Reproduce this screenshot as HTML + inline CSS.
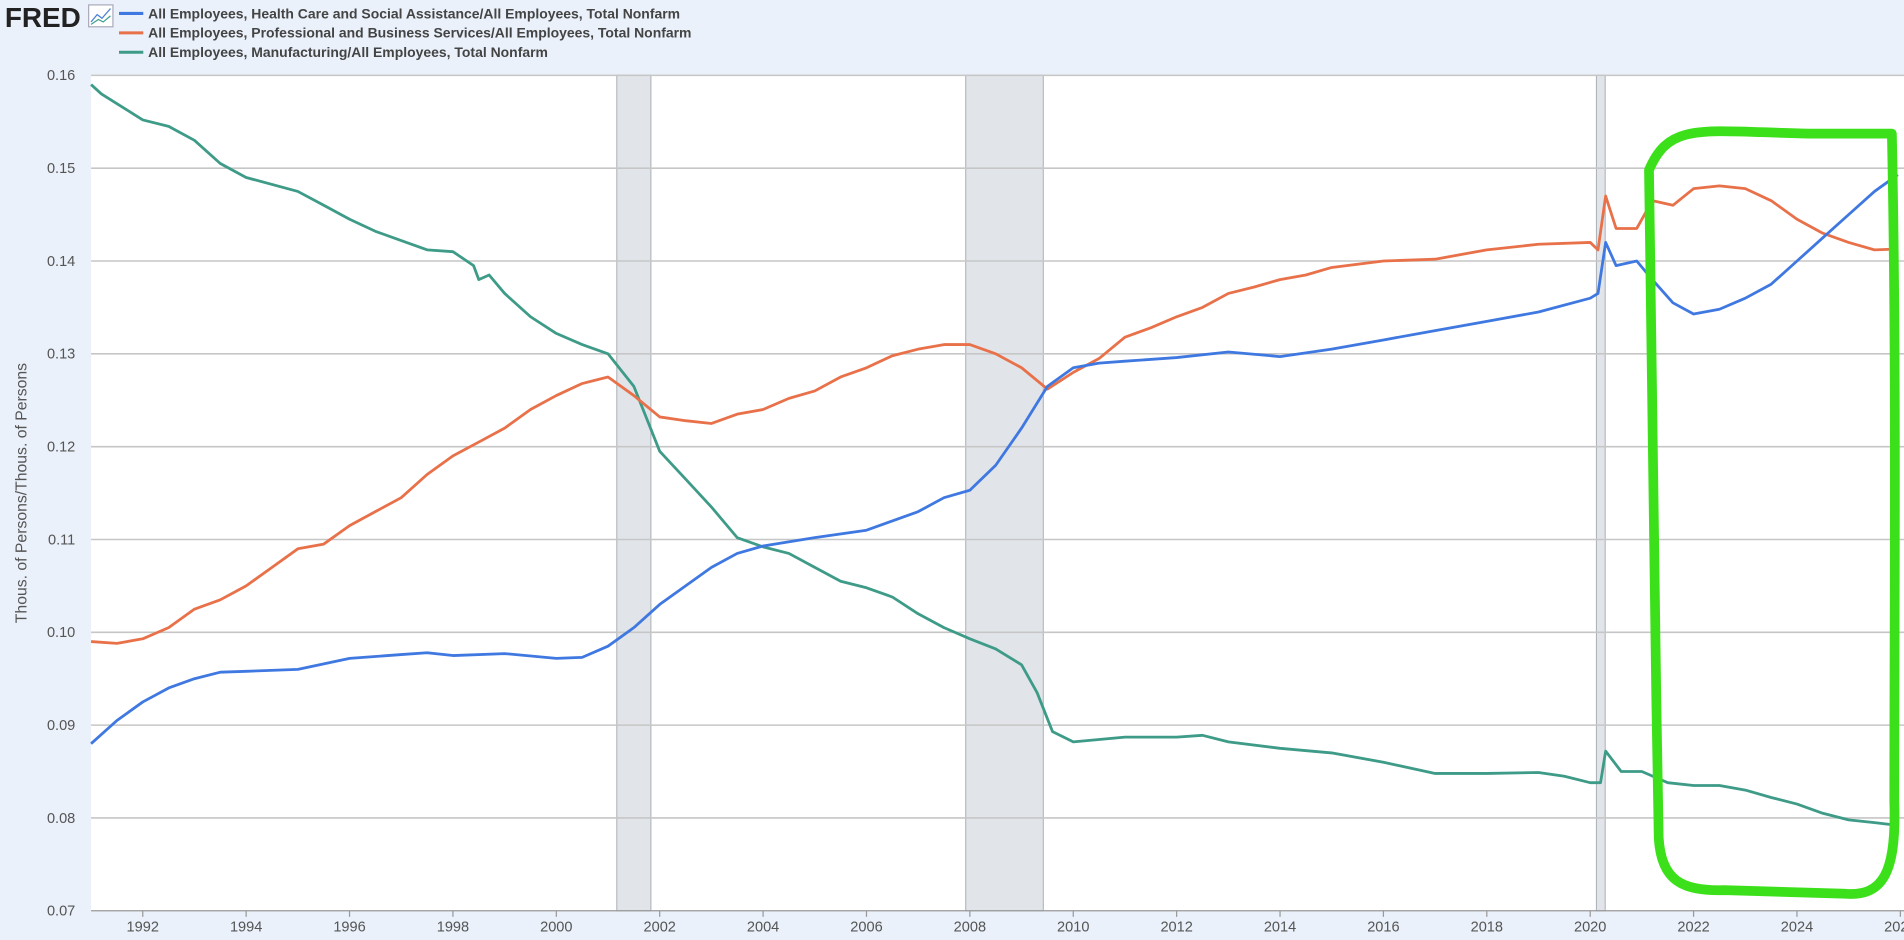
<!DOCTYPE html>
<html><head><meta charset="utf-8">
<style>
html,body{margin:0;padding:0;background:#eaf1fa;overflow:hidden}
svg{display:block}
text{font-family:"Liberation Sans",sans-serif}
</style></head>
<body>
<svg id="chart" width="1904" height="940" viewBox="0 0 1568 774" xmlns="http://www.w3.org/2000/svg">
<rect x="0" y="0" width="1568" height="774" fill="#eaf1fa"/>
<text x="4" y="22" font-size="23" font-weight="bold" fill="#222">FRED</text>
<g><rect x="73" y="4" width="20" height="18" fill="#fff" stroke="#aab"/><polyline points="75,18 80,12 84,15 91,7" fill="none" stroke="#4a7fd6"/><polyline points="75,20 81,16 85,18 91,13" fill="none" stroke="#3fa08c"/></g>
<g>
<line x1="98" y1="11" x2="118" y2="11" stroke="#3f78e0" stroke-width="2.5"/>
<text x="122" y="15" font-size="11.5" font-weight="bold" fill="#444">All Employees, Health Care and Social Assistance/All Employees, Total Nonfarm</text>
<line x1="98" y1="27" x2="118" y2="27" stroke="#e8714a" stroke-width="2.5"/>
<text x="122" y="31" font-size="11.5" font-weight="bold" fill="#444">All Employees, Professional and Business Services/All Employees, Total Nonfarm</text>
<line x1="98" y1="43" x2="118" y2="43" stroke="#3d9b87" stroke-width="2.5"/>
<text x="122" y="47" font-size="11.5" font-weight="bold" fill="#444">All Employees, Manufacturing/All Employees, Total Nonfarm</text>
</g>
<rect x="75" y="62" width="1493" height="688" fill="#fff"/>
<g id="rec"></g><g id="grid"></g><g id="lines"></g><g id="axes"></g>
<text transform="translate(22,406) rotate(-90)" text-anchor="middle" font-size="13" fill="#555">Thous. of Persons/Thous. of Persons</text>
<path d="M1358,140 C1375,100 1400,108 1490,110 L1558,110 C1562,300 1560,500 1560,660 C1562,720 1550,738 1520,736 L1420,733 C1385,734 1368,725 1366,690 C1362,500 1362,300 1358,140 Z" fill="none" stroke="#3ce01a" stroke-width="8" stroke-linejoin="round"/>
</svg>
<script>
const yTicks=[0.07,0.08,0.09,0.10,0.11,0.12,0.13,0.14,0.15,0.16];
const xTickYears=[1992,1994,1996,1998,2000,2002,2004,2006,2008,2010,2012,2014,2016,2018,2020,2022,2024,2026];
const recessionStarts=[2001.17,2007.92,2020.12];
const recessionEnds=[2001.83,2009.42,2020.29];
const healthDates=[1991,1991.5,1992,1992.5,1993,1993.5,1994,1995,1996,1997,1997.5,1998,1999,2000,2000.5,2001,2001.5,2002,2002.5,2003,2003.5,2004,2005,2006,2007,2007.5,2008,2008.5,2009,2009.5,2010,2010.5,2011,2012,2013,2014,2015,2016,2017,2018,2019,2020,2020.15,2020.3,2020.5,2020.9,2021.2,2021.6,2022,2022.5,2023,2023.5,2024,2024.5,2025,2025.5,2025.95];
const healthValues=[0.088,0.0905,0.0925,0.094,0.095,0.0957,0.0958,0.096,0.0972,0.0976,0.0978,0.0975,0.0977,0.0972,0.0973,0.0985,0.1005,0.103,0.105,0.107,0.1085,0.1093,0.1102,0.111,0.113,0.1145,0.1153,0.118,0.122,0.1265,0.1285,0.129,0.1292,0.1296,0.1302,0.1297,0.1305,0.1315,0.1325,0.1335,0.1345,0.136,0.1365,0.142,0.1395,0.140,0.138,0.1355,0.1343,0.1348,0.136,0.1375,0.140,0.1425,0.145,0.1475,0.1493];
const profDates=[1991,1991.5,1992,1992.5,1993,1993.5,1994,1994.5,1995,1995.5,1996,1996.5,1997,1997.5,1998,1998.5,1999,1999.5,2000,2000.5,2001,2001.5,2002,2002.5,2003,2003.5,2004,2004.5,2005,2005.5,2006,2006.5,2007,2007.5,2008,2008.5,2009,2009.5,2010,2010.5,2011,2011.5,2012,2012.5,2013,2013.5,2014,2014.5,2015,2016,2017,2018,2019,2020,2020.15,2020.3,2020.5,2020.9,2021.2,2021.6,2022,2022.5,2023,2023.5,2024,2024.5,2025,2025.5,2025.95];
const profValues=[0.099,0.0988,0.0993,0.1005,0.1025,0.1035,0.105,0.107,0.109,0.1095,0.1115,0.113,0.1145,0.117,0.119,0.1205,0.122,0.124,0.1255,0.1268,0.1275,0.1255,0.1232,0.1228,0.1225,0.1235,0.124,0.1252,0.126,0.1275,0.1285,0.1298,0.1305,0.131,0.131,0.130,0.1285,0.1262,0.128,0.1295,0.1318,0.1328,0.134,0.135,0.1365,0.1372,0.138,0.1385,0.1393,0.140,0.1402,0.1412,0.1418,0.142,0.1412,0.147,0.1435,0.1435,0.1465,0.146,0.1478,0.1481,0.1478,0.1465,0.1445,0.143,0.142,0.1412,0.1413];
const mfgDates=[1991,1991.2,1992,1992.5,1993,1993.5,1994,1995,1995.5,1996,1996.5,1997,1997.5,1998,1998.4,1998.5,1998.7,1999,1999.5,2000,2000.5,2001,2001.5,2002,2002.5,2003,2003.5,2004,2004.5,2005,2005.5,2006,2006.5,2007,2007.5,2008,2008.5,2009,2009.3,2009.6,2010,2011,2012,2012.5,2013,2014,2015,2016,2017,2018,2019,2019.5,2020,2020.2,2020.3,2020.6,2021,2021.5,2022,2022.5,2023,2023.5,2024,2024.5,2025,2025.5,2025.95];
const mfgValues=[0.159,0.158,0.1552,0.1545,0.153,0.1505,0.149,0.1475,0.146,0.1445,0.1432,0.1422,0.1412,0.141,0.1395,0.138,0.1385,0.1365,0.134,0.1322,0.131,0.130,0.1265,0.1195,0.1165,0.1135,0.1102,0.1092,0.1085,0.107,0.1055,0.1048,0.1038,0.102,0.1005,0.0993,0.0982,0.0965,0.0935,0.0893,0.0882,0.0887,0.0887,0.0889,0.0882,0.0875,0.087,0.086,0.0848,0.0848,0.0849,0.0845,0.0838,0.0838,0.0872,0.085,0.085,0.0838,0.0835,0.0835,0.083,0.0822,0.0815,0.0805,0.0798,0.0795,0.0792];

const NS='http://www.w3.org/2000/svg';
const X0=75,X1=1565,Y0=62,Y1=750,T0=1991,T1=2026,V0=0.07,V1=0.16;
function xs(t){return X0+(t-T0)/(T1-T0)*(X1-X0);}
function ys(v){return Y1-(v-V0)/(V1-V0)*(Y1-Y0);}
function mk(tag,attrs,parent){const e=document.createElementNS(NS,tag);for(const k in attrs)e.setAttribute(k,attrs[k]);parent.appendChild(e);return e;}
const rec=document.getElementById('rec'),grid=document.getElementById('grid'),lines=document.getElementById('lines'),axes=document.getElementById('axes');
recessionStarts.forEach((s,i)=>{
  const r=mk('rect',{x:xs(s),y:Y0,width:xs(recessionEnds[i])-xs(s),height:Y1-Y0,fill:'#e1e5ea',stroke:'#a8adb3','stroke-width':0.8},rec);
  
  
});
yTicks.forEach(v=>{
  if(v>V0){const l=mk('line',{x1:X0,x2:1568,y1:ys(v),y2:ys(v),stroke:'#c6c6c6','stroke-width':1.3},grid);
  
  }
  const t=mk('text',{x:62,y:ys(v)+4,'text-anchor':'end','font-size':12,fill:'#555'},axes);
  t.textContent=v.toFixed(2);
  
  
});
xTickYears.forEach(yr=>{
  const tk=mk('line',{x1:xs(yr),x2:xs(yr),y1:Y1,y2:Y1+5,stroke:'#999'},axes);
  
  
  const t=mk('text',{x:xs(yr),y:Y1+17,'text-anchor':'middle','font-size':12,fill:'#555'},axes);
  t.textContent=yr;
  
  
});
const ax=mk('line',{x1:X0,x2:1568,y1:Y1,y2:Y1,stroke:'#999'},axes);


function series(d,v,color,name){
  const pts=d.map((t,i)=>xs(t).toFixed(1)+','+ys(v[i]).toFixed(1)).join(' ');
  const p=mk('polyline',{points:pts,fill:'none',stroke:color,'stroke-width':2.3,'stroke-linejoin':'round'},lines);
  
  
}
series(mfgDates,mfgValues,'#3d9b87','manufacturing-line');
series(profDates,profValues,'#e8714a','professional-services-line');
series(healthDates,healthValues,'#3f78e0','health-care-line');
</script>
</body></html>
